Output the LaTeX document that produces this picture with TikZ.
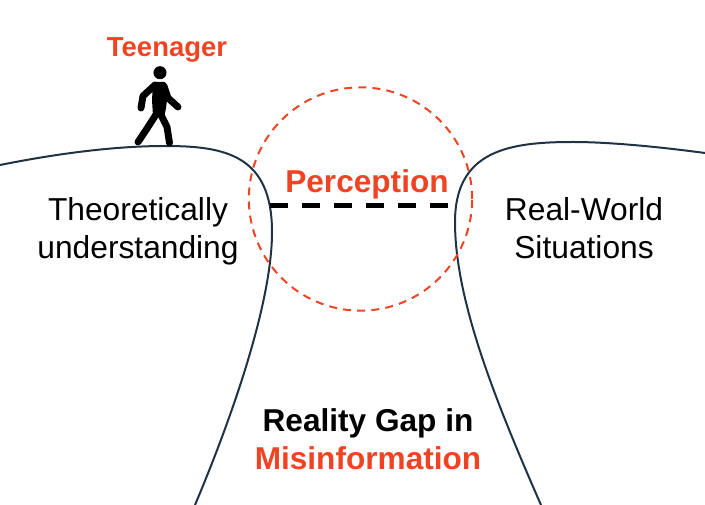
\documentclass[tikz,border=0pt]{standalone}
\usepackage{fontspec}
\setmainfont{Liberation Sans}
\definecolor{redo}{HTML}{EE4423}
\definecolor{navy}{HTML}{1F3345}
\tikzset{
  every picture/.style={x=0.75pt,y=-0.75pt},
  cliff/.style={draw=navy,line width=1.5pt},
  lbl/.style={font=\fontsize{23.8}{28.5}\selectfont,align=center,text=black,inner sep=0pt},
  redlbl/.style={font=\fontsize{23.7}{28.5}\selectfont\bfseries,text=redo,inner sep=0pt},
  body/.style={draw=black,line width=5.2pt,line cap=round,line join=round}
}
\begin{document}
\begin{tikzpicture}
\useasboundingbox (0,0) rectangle (705,505);
\coordinate (lA) at (0,165);
\coordinate (lB) at (272,232);
\coordinate (lC) at (195,505);
\coordinate (rA) at (705,153);
\coordinate (rB) at (455,222);
\coordinate (rC) at (541,505);
\draw[cliff] (lA) .. controls (50,155) and (110,146) .. (165,146) .. controls (225,146) and (272,155) .. (lB) .. controls (272,300) and (235,410) .. (lC);
\draw[cliff] (rA) .. controls (660,147) and (610,142) .. (573,142) .. controls (510,142) and (455,150) .. (rB) .. controls (455,300) and (495,400) .. (rC);
\node[circle,draw=redo,line width=1.5pt,dash pattern=on 6pt off 4.6pt,minimum size=167.5pt,inner sep=0pt] (circ) at (360.5,199) {};
\coordinate (dL) at (270,206);
\coordinate (dR) at (448,206);
\draw[black,line width=3.75pt,dash pattern=on 13.7pt off 10.3pt] (dL) -- (dR);
\node[redlbl] (perc) at (367,184) {Perception};
\node[redlbl,font=\fontsize{20.6}{24}\selectfont\bfseries] (teen) at (167,50) {Teenager};
\node[lbl] (theo) at (138,231) {Theoretically\\understanding};
\node[lbl] (real) at (584,228) {Real-World\\Situations};
\node[lbl,font=\fontsize{23.7}{28.5}\selectfont\bfseries] (gap) at (368,439) {Reality Gap in\\\textcolor{redo}{Misinformation}};
\fill[black] (160,72.7) circle (4.9pt);
\fill[black] (153,82) -- (165,82) -- (168,92) -- (166,108) -- (164,118) -- (153,116) -- (152,100) -- cycle;
\draw[body] (141,108) -- (143,96) -- (155,85);
\draw[body] (164,86) -- (168,98) -- (178,107);
\draw[body] (157,113) -- (148,127) -- (138,142);
\draw[body] (160,113) -- (167,127) -- (169.5,143);
\end{tikzpicture}
\end{document}
